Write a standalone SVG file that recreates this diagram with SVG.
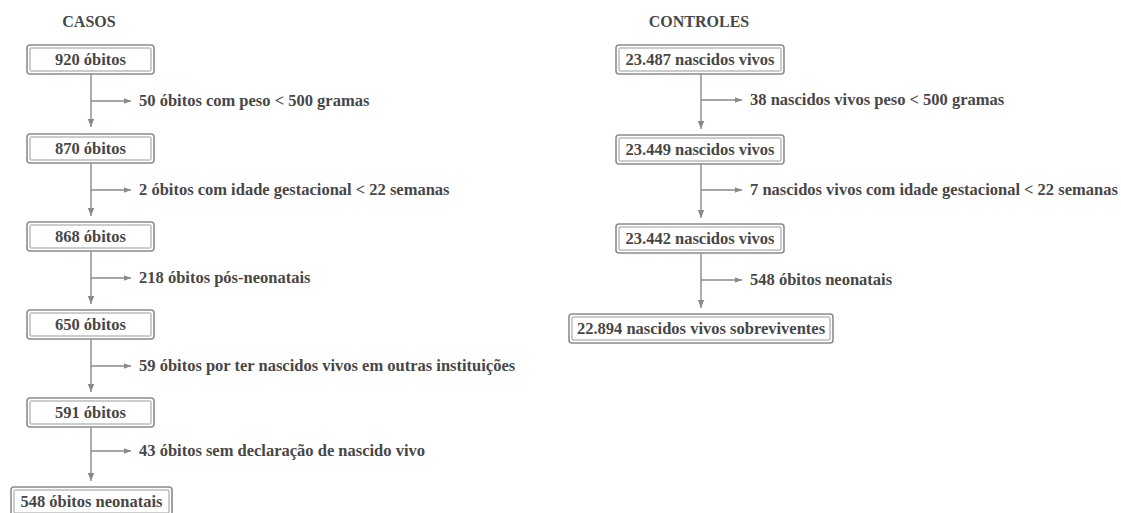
<svg xmlns="http://www.w3.org/2000/svg" width="1121" height="513" viewBox="0 0 1121 513">
<defs>
<style>
text{font-weight:bold;fill:#474747;font-size:16.5px}
.t{text-anchor:middle}
.title{font-size:16px;text-anchor:middle}
.o{fill:#fff;stroke:#8c8c8c;stroke-width:1.6}
.i{fill:none;stroke:#9a9a9a;stroke-width:1}
.c{stroke:#8a8a8a;stroke-width:1.4;fill:none}
</style>
<marker id="ah" viewBox="0 0 10 10" refX="10" refY="5" markerWidth="7" markerHeight="7" markerUnits="userSpaceOnUse" orient="auto">
<path d="M0,1 L10,5 L0,9 Z" fill="#8a8a8a"/>
</marker>
<marker id="av" viewBox="0 0 10 10" refX="10" refY="5" markerWidth="8" markerHeight="8" markerUnits="userSpaceOnUse" orient="auto">
<path d="M0,1 L10,5 L0,9 Z" fill="#8a8a8a"/>
</marker>
</defs>
<rect width="1121" height="513" fill="#fff"/>
<g font-family="'Liberation Serif', 'DejaVu Serif', serif">
<text class="title" x="89" y="27">CASOS</text>
<text class="title" x="699" y="27">CONTROLES</text>

<g id="connectors">
<path class="c" d="M91,74 V127" marker-end="url(#av)"/>
<path class="c" d="M91,101 H131" marker-end="url(#ah)"/>
<path class="c" d="M91,163 V216" marker-end="url(#av)"/>
<path class="c" d="M91,190 H131" marker-end="url(#ah)"/>
<path class="c" d="M91,251 V304" marker-end="url(#av)"/>
<path class="c" d="M91,278 H131" marker-end="url(#ah)"/>
<path class="c" d="M91,339 V392" marker-end="url(#av)"/>
<path class="c" d="M91,366 H131" marker-end="url(#ah)"/>
<path class="c" d="M91,427 V481" marker-end="url(#av)"/>
<path class="c" d="M91,451 H131" marker-end="url(#ah)"/>
<path class="c" d="M701,74 V129" marker-end="url(#av)"/>
<path class="c" d="M701,100 H742" marker-end="url(#ah)"/>
<path class="c" d="M701,164 V218" marker-end="url(#av)"/>
<path class="c" d="M701,190 H742" marker-end="url(#ah)"/>
<path class="c" d="M701,253 V308" marker-end="url(#av)"/>
<path class="c" d="M701,280 H742" marker-end="url(#ah)"/>
</g>

<g id="labels">
<text x="139" y="106">50 óbitos com peso &lt; 500 gramas</text>
<text x="139" y="195">2 óbitos com idade gestacional &lt; 22 semanas</text>
<text x="139" y="283">218 óbitos pós-neonatais</text>
<text x="139" y="371">59 óbitos por ter nascidos vivos em outras instituições</text>
<text x="139" y="456">43 óbitos sem declaração de nascido vivo</text>
<text x="750" y="105">38 nascidos vivos peso &lt; 500 gramas</text>
<text x="750" y="195">7 nascidos vivos com idade gestacional &lt; 22 semanas</text>
<text x="750" y="285">548 óbitos neonatais</text>
</g>

<g id="n920"><rect class="o" x="27" y="45" width="127" height="29" rx="3"/><rect class="i" x="30" y="48" width="121" height="23" rx="1"/><text class="t" x="90.5" y="65">920 óbitos</text></g>
<g id="n870"><rect class="o" x="27" y="134" width="127" height="29" rx="3"/><rect class="i" x="30" y="137" width="121" height="23" rx="1"/><text class="t" x="90.5" y="154">870 óbitos</text></g>
<g id="n868"><rect class="o" x="27" y="222" width="127" height="29" rx="3"/><rect class="i" x="30" y="225" width="121" height="23" rx="1"/><text class="t" x="90.5" y="242">868 óbitos</text></g>
<g id="n650"><rect class="o" x="27" y="310" width="127" height="29" rx="3"/><rect class="i" x="30" y="313" width="121" height="23" rx="1"/><text class="t" x="90.5" y="330">650 óbitos</text></g>
<g id="n591"><rect class="o" x="27" y="398" width="127" height="29" rx="3"/><rect class="i" x="30" y="401" width="121" height="23" rx="1"/><text class="t" x="90.5" y="418">591 óbitos</text></g>
<g id="n548"><rect class="o" x="11" y="487" width="161" height="29" rx="3"/><rect class="i" x="14" y="490" width="155" height="23" rx="1"/><text class="t" x="91.5" y="507">548 óbitos neonatais</text></g>

<g id="c23487"><rect class="o" x="616" y="45" width="168" height="29" rx="3"/><rect class="i" x="619" y="48" width="162" height="23" rx="1"/><text class="t" x="700" y="65">23.487 nascidos vivos</text></g>
<g id="c23449"><rect class="o" x="616" y="135" width="168" height="29" rx="3"/><rect class="i" x="619" y="138" width="162" height="23" rx="1"/><text class="t" x="700" y="155">23.449 nascidos vivos</text></g>
<g id="c23442"><rect class="o" x="616" y="224" width="168" height="29" rx="3"/><rect class="i" x="619" y="227" width="162" height="23" rx="1"/><text class="t" x="700" y="244">23.442 nascidos vivos</text></g>
<g id="c22894"><rect class="o" x="569" y="314" width="264" height="29" rx="3"/><rect class="i" x="572" y="317" width="258" height="23" rx="1"/><text class="t" x="701" y="334">22.894 nascidos vivos sobreviventes</text></g>
</g>
</svg>
